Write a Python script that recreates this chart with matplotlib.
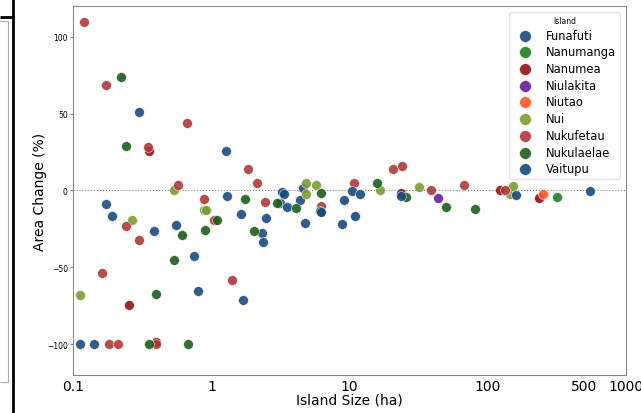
import matplotlib
matplotlib.use("Agg")
import matplotlib.pyplot as plt
from matplotlib.lines import Line2D

islands = ["Funafuti", "Nanumanga", "Nanumea", "Niulakita", "Niutao",
           "Nui", "Nukufetau", "Nukulaelae", "Vaitupu"]
colors = {"Funafuti": "#1b4a7e", "Nanumanga": "#1f7f1f", "Nanumea": "#8e1515",
          "Niulakita": "#6a1b9a", "Niutao": "#ff5722", "Nui": "#7a9c30",
          "Nukufetau": "#ad3a3a", "Nukulaelae": "#1b5e1b", "Vaitupu": "#174a7c"}

funafuti_size = [0.30, 1.27, 0.171, 0.191, 0.384, 0.552, 0.746, 0.80, 1.69, 0.111,
                 0.140, 1.29, 1.64, 2.47, 2.33, 2.35, 3.14, 3.24, 3.35, 3.5, 4.38,
                 4.63, 4.74]
funafuti_change = [51, 26, -8.7, -16.3, -26.5, -22.4, -42.8, -65.6, -71.2, -100,
                   -100, -3.7, -15.6, -17.6, -28, -33.7, -8.0, -1.1, -2.4, -10.9, -5.9,
                   1.8, -21]
vaitupu_size = [6.2, 8.75, 9.07, 10.4, 10.9, 11.8, 23.5, 160, 547]
vaitupu_change = [-13.9, -22.1, -6.3, -0.4, -16.3, -2.0, -3.7, -2.8, -0.2]
nukufetau_size = [0.119, 0.171, 0.349, 0.667, 1.83, 2.14, 0.57, 0.24, 0.30, 0.16,
                  1.40, 0.18, 0.21, 0.394, 0.88, 1.05, 2.44, 6.2, 10.7, 20.5, 24.0,
                  38.6, 66.7, 133]
nukufetau_change = [110, 68.4, 28.2, 43.8, 14.3, 5.0, 3.3, -23.2, -32.4, -53.6,
                    -58, -100, -100, -100, -5.4, -19.5, -7.6, -9.8, 4.6, 14.3, 15.8,
                    0.2, 3.7, 0]
nanumea_size = [0.355, 0.251, 0.394, 23.5, 122, 233]
nanumea_change = [26, -74.9, -98.8, -1.5, 0, -4.8]
nukulaelae_size = [0.22, 0.239, 0.607, 0.531, 0.394, 0.35, 0.674, 1.76, 0.895, 1.09,
                   2.03, 2.96, 4.1, 6.1, 6.2, 15.7, 25.7, 50, 81.1]
nukulaelae_change = [73.8, 28.9, -28.9, -45.4, -67.3, -100, -100, -5.4, -25.9, -19.5,
                     -26.5, -8.0, -11.7, -13.5, -1.5, 4.6, -4.1, -10.6, -11.9]
nui_size = [0.268, 0.531, 0.111, 0.886, 0.92, 4.8, 4.8, 5.7, 16.6, 31.8, 144, 153]
nui_change = [-18.9, 0, -68.4, -12.8, -12.4, 4.6, -2.6, 3.3, 0.2, 2.2, -2.2, 2.8]
niulakita_size = [43.9]
niulakita_change = [-5.0]
niutao_size = [249]
niutao_change = [-2.6]
nanumanga_size = [318]
nanumanga_change = [-4.1]

data = {
    "Funafuti": (funafuti_size, funafuti_change),
    "Nanumanga": (nanumanga_size, nanumanga_change),
    "Nanumea": (nanumea_size, nanumea_change),
    "Niulakita": (niulakita_size, niulakita_change),
    "Niutao": (niutao_size, niutao_change),
    "Nui": (nui_size, nui_change),
    "Nukufetau": (nukufetau_size, nukufetau_change),
    "Nukulaelae": (nukulaelae_size, nukulaelae_change),
    "Vaitupu": (vaitupu_size, vaitupu_change),
}

xticks = [0.1, 1, 10, 100, 500, 1000]
xtick_labels = ["0.1", "1", "10", "100", "500", "1000"]
yticks = [-100, -50, 0, 50, 100]

fig = plt.figure(figsize=(6.41, 4.14), dpi=100)
ax = fig.add_axes([0.1144, 0.0925, 0.9766 - 0.1144, 0.9824 - 0.0925])

for isl in islands:
    xs, ys = data[isl]
    ax.scatter(xs, ys, s=50, color=colors[isl], alpha=0.9, edgecolors="white",
               linewidths=0.4, label=isl, zorder=3)

ax.axhline(0, color="gray", linestyle=":", linewidth=0.8, zorder=1)
ax.set_xscale("log")
ax.set_xlim(0.1, 1000)
ax.set_ylim(-120, 120)
ax.set_xticks(xticks)
ax.set_xticklabels(xtick_labels, fontsize=10)
ax.minorticks_off()
ax.set_yticks(yticks)
ax.tick_params(axis="y", labelsize=5.5, length=2, pad=2, color="gray")
ax.tick_params(axis="x", length=0, pad=3)
ax.set_xlabel("Island Size (ha)", fontsize=10, labelpad=0)
ax.set_ylabel("Area Change (%)", fontsize=10, labelpad=0)
for sp in ax.spines.values():
    sp.set_color("#888888")
    sp.set_linewidth(0.8)

leg = ax.legend(title="Island", loc="upper right", fontsize=8.3, title_fontsize=5.5,
                labelspacing=0.32, handletextpad=0.8, borderpad=0.35,
                borderaxespad=0, bbox_to_anchor=(0.989, 0.9845), markerscale=1.2)
leg.get_frame().set_edgecolor("#dddddd")

W, H = 641, 414
def px(x, y):
    return x / W, 1 - y / H

def line(x0, y0, x1, y1, color, lw):
    a, b = px(x0, y0)
    c, d = px(x1, y1)
    fig.add_artist(Line2D([a, c], [b, d], transform=fig.transFigure,
                          color=color, linewidth=lw, solid_capstyle="butt"))

line(13, 0, 13, 414, "black", 2.0)
line(0, 17.5, 13, 17.5, "black", 2.0)
line(8, 22, 8, 383, "#aaaaaa", 0.8)
line(0, 22, 8, 22, "#aaaaaa", 0.8)
line(0, 383, 8, 383, "#aaaaaa", 0.8)

fig.savefig("out.png", dpi=100)
